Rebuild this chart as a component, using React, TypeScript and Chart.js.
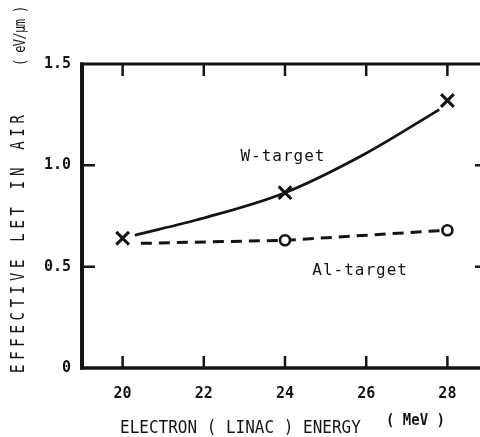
import React, { useEffect, useRef } from "react";
import { Chart, registerables } from "chart.js";

Chart.register(...registerables);

// ---- data ----
const xTicks = [20, 22, 24, 26, 28];
const yTicks = [0, 0.5, 1.0, 1.5];
const yTickLabels = ["0", "0.5", "1.0", "1.5"];

// W-target measured points (x marks)
const wEnergy = [20, 24, 28];
const wLet = [0.64, 0.865, 1.32];
// W-target smooth curve (solid)
const wCurveEnergy = [20.3, 22, 24, 26, 27.8];
const wCurveLet = [0.655, 0.74, 0.865, 1.06, 1.275];

// Al-target measured points (open circles)
const alEnergy = [24, 28];
const alLet = [0.63, 0.68];
// Al-target dashed line
const alCurveEnergy = [20.45, 24, 28];
const alCurveLet = [0.615, 0.63, 0.68];

const seriesLabels = ["W-target", "Al-target"];
const xTitle = "ELECTRON ( LINAC ) ENERGY";
const xUnit = "( MeV )";
const yTitle = "EFFECTIVE LET IN AIR";
const yUnit = "( eV/μm )";

const INK = "#141414";
const MONO = "'DejaVu Sans Mono', 'Liberation Mono', monospace";

const zip = (xs: number[], ys: number[]) => xs.map((x, i) => ({ x, y: ys[i] }));

const framePlugin = {
  id: "frame",
  afterDraw(chart: any) {
    const { ctx, chartArea } = chart;
    const { left, right, top, bottom } = chartArea;
    const xs = chart.scales.x;
    const ys = chart.scales.y;
    ctx.save();
    ctx.strokeStyle = INK;
    ctx.lineCap = "butt";
    // borders
    ctx.lineWidth = 4;
    ctx.beginPath();
    ctx.moveTo(left, top - 1.5);
    ctx.lineTo(left, bottom + 1.5);
    ctx.stroke();
    ctx.lineWidth = 3.5;
    ctx.beginPath();
    ctx.moveTo(left - 2, bottom);
    ctx.lineTo(right + 2, bottom);
    ctx.stroke();
    ctx.lineWidth = 3;
    ctx.beginPath();
    ctx.moveTo(left - 2, top);
    ctx.lineTo(right + 2, top);
    ctx.stroke();
    ctx.beginPath();
    ctx.moveTo(right, top);
    ctx.lineTo(right, bottom);
    ctx.stroke();
    // inward ticks
    ctx.lineWidth = 2.5;
    xTicks.forEach((v) => {
      const px = xs.getPixelForValue(v);
      ctx.beginPath();
      ctx.moveTo(px, bottom);
      ctx.lineTo(px, bottom - 12);
      ctx.moveTo(px, top);
      ctx.lineTo(px, top + 12);
      ctx.stroke();
    });
    yTicks.forEach((v) => {
      if (v <= ys.min || v >= ys.max) return;
      const py = ys.getPixelForValue(v);
      ctx.beginPath();
      ctx.moveTo(left, py);
      ctx.lineTo(left + 13, py);
      ctx.moveTo(right, py);
      ctx.lineTo(right - 13, py);
      ctx.stroke();
    });

    // series labels
    ctx.fillStyle = INK;
    ctx.textAlign = "center";
    ctx.textBaseline = "middle";
    ctx.font = `16px ${MONO}`;
    (ctx as any).letterSpacing = "1px";
    ctx.fillText(seriesLabels[0], xs.getPixelForValue(23.95), ys.getPixelForValue(1.04));
    ctx.fillText(seriesLabels[1], xs.getPixelForValue(25.85), ys.getPixelForValue(0.48));

    // x title
    ctx.textAlign = "left";
    ctx.textBaseline = "alphabetic";
    ctx.save();
    ctx.translate(120, 433);
    ctx.scale(1, 1.12);
    ctx.font = `16px ${MONO}`;
    (ctx as any).letterSpacing = "0px";
    ctx.fillText(xTitle, 0, 0);
    ctx.restore();
    ctx.save();
    ctx.translate(386, 425);
    ctx.scale(1, 1.1);
    ctx.font = `bold 14px ${MONO}`;
    (ctx as any).letterSpacing = "0px";
    ctx.fillText(xUnit, 0, 0);
    ctx.restore();

    // y title
    ctx.save();
    ctx.translate(24, 373);
    ctx.rotate(-Math.PI / 2);
    ctx.scale(1, 1.35);
    ctx.font = `14px ${MONO}`;
    (ctx as any).letterSpacing = "4.7px";
    ctx.fillText(yTitle, 0, 0);
    ctx.restore();
    ctx.save();
    ctx.translate(25, 66);
    ctx.rotate(-Math.PI / 2);
    ctx.scale(1, 1.3);
    ctx.font = `12px ${MONO}`;
    (ctx as any).letterSpacing = "-0.6px";
    ctx.fillText(yUnit, 0, 0);
    ctx.restore();

    ctx.restore();
  },
};

export default function App() {
  const ref = useRef<HTMLCanvasElement | null>(null);
  useEffect(() => {
    if (!ref.current) return;
    const tickFont = { family: MONO, size: 15, weight: "bold" as const };
    const chart = new Chart(ref.current, {
      type: "scatter",
      data: {
        datasets: [
          {
            label: seriesLabels[0] + " points",
            data: zip(wEnergy, wLet),
            showLine: false,
            pointStyle: "crossRot",
            pointRadius: 9,
            pointBorderWidth: 3,
            borderColor: INK,
            backgroundColor: INK,
          },
          {
            label: seriesLabels[1] + " points",
            data: zip(alEnergy, alLet),
            showLine: false,
            pointStyle: "circle",
            pointRadius: 5,
            pointBorderWidth: 2.6,
            borderColor: INK,
            backgroundColor: "#ffffff",
          },
          {
            label: seriesLabels[0],
            data: zip(wCurveEnergy, wCurveLet),
            showLine: true,
            pointRadius: 0,
            borderWidth: 2.8,
            borderColor: INK,
            cubicInterpolationMode: "monotone",
          },
          {
            label: seriesLabels[1],
            data: zip(alCurveEnergy, alCurveLet),
            showLine: true,
            pointRadius: 0,
            borderWidth: 3,
            borderColor: INK,
            borderDash: [11, 7],
          },
        ],
      },
      options: {
        responsive: true,
        maintainAspectRatio: false,
        animation: false,
        layout: { padding: { top: 64, right: 12, left: 0, bottom: 0 } },
        plugins: { legend: { display: false }, tooltip: { enabled: false } },
        scales: {
          x: {
            type: "linear",
            min: 19,
            max: 29,
            afterBuildTicks: (s: any) => {
              s.ticks = xTicks.map((v) => ({ value: v }));
            },
            afterFit: (s: any) => {
              s.height = 69;
            },
            grid: { display: false, drawTicks: false },
            border: { display: false },
            ticks: {
              font: tickFont,
              color: INK,
              padding: 17,
              maxRotation: 0,
              autoSkip: false,
              callback: (v: any) => String(v),
            },
          },
          y: {
            type: "linear",
            min: 0,
            max: 1.5,
            afterBuildTicks: (s: any) => {
              s.ticks = yTicks.map((v) => ({ value: v }));
            },
            afterFit: (s: any) => {
              s.width = 82;
            },
            grid: { display: false, drawTicks: false },
            border: { display: false },
            ticks: {
              font: tickFont,
              color: INK,
              padding: 11,
              autoSkip: false,
              callback: (v: any) => {
                const i = yTicks.indexOf(Number(v));
                return i >= 0 ? yTickLabels[i] : "";
              },
            },
          },
        },
      },
      plugins: [framePlugin],
    });
    return () => chart.destroy();
  }, []);

  return (
    <div style={{ position: "fixed", left: 0, top: 0, width: 500, height: 437, background: "#fff" }}>
      <canvas ref={ref} />
    </div>
  );
}
